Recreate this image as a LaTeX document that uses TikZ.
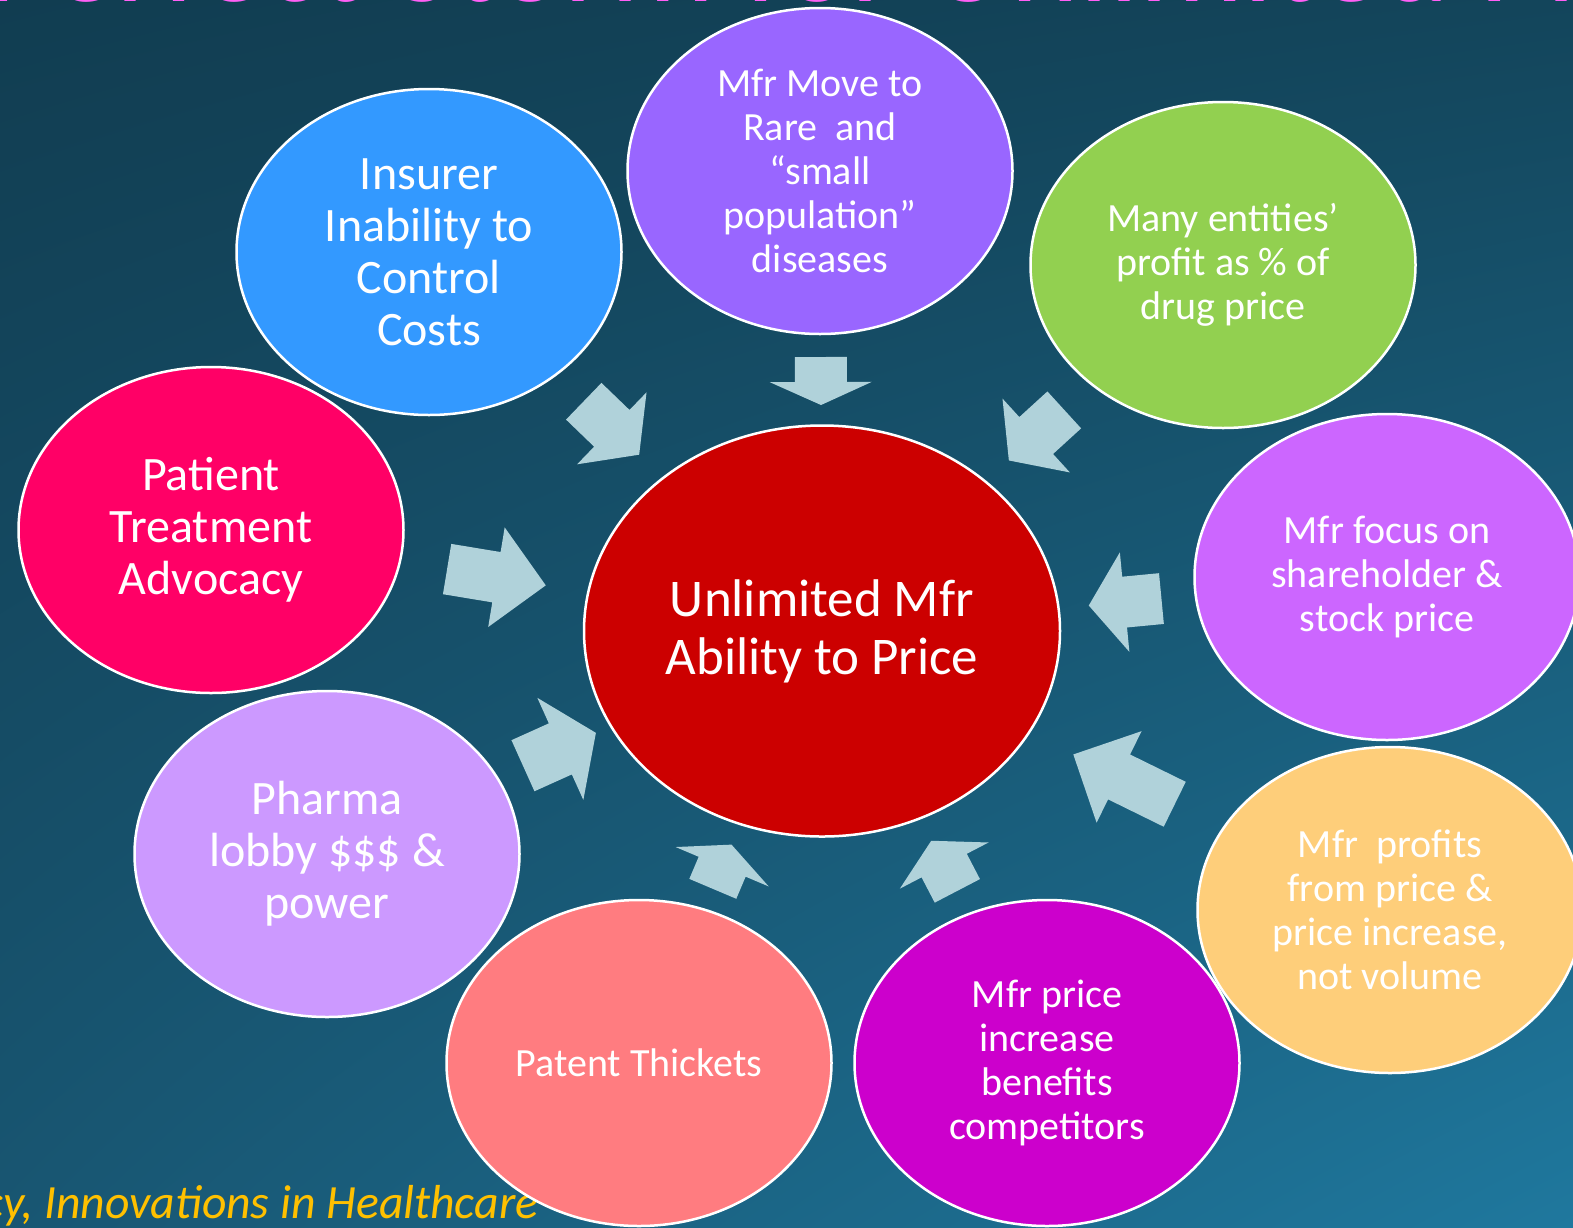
\documentclass[tikz,border=0pt]{standalone}
\usepackage{fontspec}
\setmainfont{Carlito}
\usetikzlibrary{shapes.geometric,calc,shadings}

\definecolor{bgUL}{RGB}{17,61,81}
\definecolor{bgUR}{RGB}{19,69,91}
\definecolor{bgLL}{RGB}{24,86,114}
\definecolor{bgLR}{RGB}{31,120,158}
\definecolor{cInsurer}{RGB}{51,153,255}
\definecolor{cRare}{RGB}{153,102,255}
\definecolor{cEntities}{RGB}{146,208,80}
\definecolor{cAdvocacy}{RGB}{255,0,102}
\definecolor{cHub}{RGB}{204,0,0}
\definecolor{cFocus}{RGB}{204,102,255}
\definecolor{cLobby}{RGB}{204,153,255}
\definecolor{cProfits}{RGB}{254,206,122}
\definecolor{cThickets}{RGB}{255,124,128}
\definecolor{cCompetitors}{RGB}{204,0,204}
\definecolor{arrowblue}{RGB}{176,210,218}
\definecolor{titlepink}{RGB}{255,95,245}
\definecolor{footgold}{RGB}{255,192,0}

\tikzset{
  bubble/.style={ellipse, draw=white, line width=2.5pt, inner sep=0pt,
    minimum width=385pt, minimum height=326pt, text=white, align=center},
  smalltext/.style={font=\fontsize{40}{44}\selectfont},
  bigtext/.style={font=\fontsize{48}{52}\selectfont},
  flowfill/.style={fill=arrowblue},
}

% Block arrow lying on the line from the hub to node #1:
% tip at #2 from the hub centre, back at #3, head length #4,
% shaft half-width #5, head half-width #6 (all in pt).
\newcommand\flowarrow[6]{%
  \coordinate (fa-t) at ($(hub)!#2pt!(#1)$);
  \coordinate (fa-b) at ($(hub)!#3pt!(#1)$);
  \coordinate (fa-n) at ($(fa-t)!#4pt!(fa-b)$);
  \fill[flowfill] ($(fa-b)!#5pt!90:(fa-t)$) -- ($(fa-n)!#5pt!90:(fa-t)$)
    -- ($(fa-n)!#6pt!90:(fa-t)$) -- (fa-t) -- ($(fa-n)!#6pt!-90:(fa-t)$)
    -- ($(fa-n)!#5pt!-90:(fa-t)$) -- ($(fa-b)!#5pt!-90:(fa-t)$) -- cycle;
}

\begin{document}
\begin{tikzpicture}[x=1pt,y=-1pt]
  \useasboundingbox (0,0) rectangle (1573,1227);
  \shade[upper left=bgUL, upper right=bgUR, lower left=bgLL, lower right=bgLR]
    (0,0) rectangle (1573,1227);

  \begin{scope}
    \clip (0,0) rectangle (1573,1227);
    % slide title, mostly above the frame
    \node[anchor=base west, inner sep=0pt, text=titlepink,
      font=\fontsize{131}{140}\selectfont] (title) at (-14,1.8)
      {Perfect Storm for Unlimited Price};
    % footer
    \node[anchor=base west, inner sep=0pt, text=footgold,
      font=\fontsize{47.7}{52}\selectfont\itshape] (footer) at (-17,1218)
      {cy, Innovations in Healthcare};

    \node[bubble, bigtext, fill=cInsurer] (ins) at (429,252)
      {Insurer\\Inability to\\Control\\Costs};
    \node[bubble, smalltext, fill=cRare] (rare) at (820,171)
      {Mfr Move to\\Rare \ and\\“small\\population”\\diseases};
    \node[bubble, smalltext, fill=cEntities] (ent) at (1223,265)
      {Many entities’\\profit as \% of\\drug price};
    \node[bubble, bigtext, fill=cAdvocacy] (pat) at (211,530)
      {Patient\\Treatment\\Advocacy};
    \node[bubble, smalltext, fill=cFocus] (foc) at (1387,577)
      {Mfr focus on\\shareholder \&\\stock price};
    \node[bubble, bigtext, fill=cLobby] (lob) at (327,854)
      {Pharma\\lobby \$\$\$ \&\\power};
    \node[bubble, smalltext, fill=cProfits] (prof) at (1390,910)
      {Mfr \ profits\\from price \&\\price increase,\\not volume};
    \node[bubble, smalltext, fill=cThickets] (thk) at (639,1063)
      {Patent Thickets};
    \node[bubble, smalltext, fill=cCompetitors] (comp) at (1047,1063)
      {Mfr price\\increase\\benefits\\competitors};

    \node[bubble, fill=cHub, minimum width=476pt, minimum height=411pt,
      font=\fontsize{53}{58}\selectfont] (hub) at (822,631)
      {Unlimited Mfr\\Ability to Price};

    % arrows feeding the hub
    \flowarrow{ins}{254}{331}{38}{25.5}{50}
    \flowarrow{rare}{226}{274}{23}{26}{51}
    \flowarrow{ent}{253}{328}{37}{25}{50}
    \flowarrow{pat}{280}{380}{50}{25.5}{50.5}
    \flowarrow{lob}{248}{328}{39}{28}{56}
    \flowarrow{foc}{268}{341}{36}{25.5}{50}
    \flowarrow{prof}{280}{393}{51}{25}{51}
    \flowarrow{thk}{232}{280}{24}{25.5}{50.5}
    \flowarrow{comp}{236.5}{293}{28}{25.5}{50}
  \end{scope}
\end{tikzpicture}
\end{document}
